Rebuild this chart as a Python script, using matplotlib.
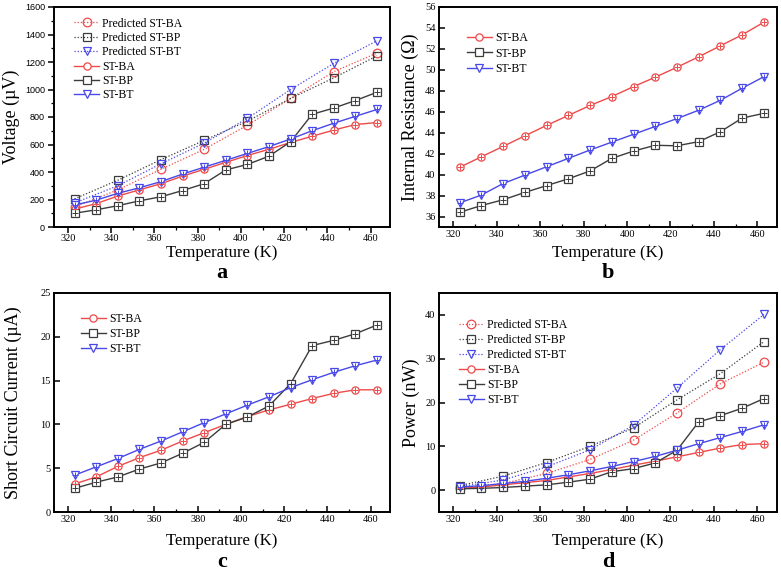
import matplotlib
matplotlib.use("Agg")
import matplotlib.pyplot as plt
from matplotlib.ticker import MultipleLocator

# ---------------- data ----------------
temp = [323, 333, 343, 353, 363, 373, 383, 393, 403, 413, 423, 433, 443, 453, 463]
temp_pred = [323, 343, 363, 383, 403, 423, 443, 463]

# (a) voltage, uV
v_ba = [130, 170, 225, 270, 315, 370, 420, 470, 520, 565, 615, 660, 705, 745, 760]
v_bp = [100, 125, 155, 190, 220, 265, 315, 415, 455, 515, 620, 820, 865, 920, 980]
v_bt = [160, 195, 245, 285, 330, 385, 435, 485, 535, 585, 640, 700, 755, 805, 855]
v_pred_ba = [145, 270, 420, 565, 740, 935, 1130, 1265]
v_pred_bp = [205, 340, 490, 630, 770, 935, 1085, 1245]
v_pred_bt = [175, 300, 460, 610, 790, 1000, 1190, 1355]

# (b) internal resistance, ohm
r_ba = [40.7, 41.7, 42.7, 43.7, 44.7, 45.65, 46.6, 47.45, 48.4, 49.3, 50.25, 51.25, 52.3, 53.35, 54.55]
r_bp = [36.4, 37.05, 37.6, 38.3, 38.95, 39.6, 40.35, 41.55, 42.25, 42.8, 42.75, 43.15, 44.1, 45.4, 45.85]
r_bt = [37.3, 38.05, 39.15, 39.95, 40.75, 41.55, 42.35, 43.1, 43.85, 44.6, 45.35, 46.15, 47.1, 48.25, 49.35]

# (c) short circuit current, uA
i_ba = [3.2, 4.0, 5.2, 6.2, 7.05, 8.1, 9.05, 10.0, 10.9, 11.65, 12.3, 12.95, 13.55, 13.95, 13.95]
i_bp = [2.7, 3.4, 4.0, 4.9, 5.6, 6.7, 7.95, 10.0, 10.85, 12.1, 14.65, 19.0, 19.6, 20.35, 21.35]
i_bt = [4.2, 5.15, 6.1, 7.15, 8.1, 9.15, 10.2, 11.2, 12.2, 13.15, 14.2, 15.1, 15.95, 16.7, 17.35]

# (d) power, nW
p_ba = [0.4, 0.7, 1.2, 1.7, 2.2, 3.0, 3.8, 4.7, 5.7, 6.6, 7.6, 8.6, 9.6, 10.4, 10.6]
p_bp = [0.3, 0.4, 0.6, 0.9, 1.2, 1.8, 2.5, 4.2, 4.9, 6.2, 9.1, 15.6, 17.0, 18.7, 20.9]
p_bt = [0.7, 1.0, 1.5, 2.0, 2.7, 3.5, 4.4, 5.4, 6.5, 7.7, 9.1, 10.6, 12.0, 13.4, 14.9]
p_pred_ba = [0.5, 1.5, 3.8, 7.0, 11.4, 17.6, 24.3, 29.2]
p_pred_bp = [1.0, 3.2, 6.3, 10.0, 14.2, 20.6, 26.6, 33.9]
p_pred_bt = [0.8, 2.3, 5.3, 9.2, 14.8, 23.3, 32.1, 40.1]

names = ["ST-BA", "ST-BP", "ST-BT"]
colors = ["#ee4a4a", "#3c3c3c", "#4848e8"]
markers = ["o", "s", "v"]

SERIF = "Liberation Serif"
SANS = "Liberation Sans"

fig = plt.figure(figsize=(7.81, 5.71), dpi=100)
W, H = 781, 571


def ax_at(l, r, t, b):
    return fig.add_axes([l / W, 1 - b / H, (r - l) / W, (b - t) / H])


axa = ax_at(54, 390, 7, 227)
axb = ax_at(439, 777, 7, 227)
axc = ax_at(54, 390, 293, 512)
axd = ax_at(439, 777, 293, 512)


def measured(ax, ys_list):
    for name, ys, c, m in zip(names, ys_list, colors, markers):
        ax.plot(temp, ys, color=c, lw=1.0, marker=m, ms=5.2, mfc="white",
                mec=c, mew=0.9, label=name, zorder=3)
        ax.plot(temp, ys, ls="none", marker="+", ms=3.8, color=c, mew=0.7, zorder=4)


def predicted(ax, ys_list):
    for name, ys, c, m in zip(names, ys_list, colors, markers):
        ax.plot(temp_pred, ys, color=c, lw=0.9, ls=(0, (1, 1.5)), marker=m, ms=6.2,
                mfc="none", mec=c, mew=0.9, label="Predicted " + name, zorder=2)


def style(ax, ylabel, ylim, yticks, letter, letter_y, ylab_x, tickdir="in",
          yfont=SERIF, yfs=7.5, yminor=None, xpad=2.5, xlabelpad=6):
    ax.set_xlim(313.5, 469)
    ax.set_ylim(*ylim)
    ax.set_xticks(range(320, 461, 20))
    ax.xaxis.set_minor_locator(MultipleLocator(10))
    if yminor:
        ax.yaxis.set_minor_locator(MultipleLocator(yminor))
    ax.set_yticks(yticks)
    for s in ax.spines.values():
        s.set_linewidth(1.4)
    ax.tick_params(which="major", direction=tickdir, length=4, width=1.1, pad=2.5)
    ax.tick_params(axis="x", which="major", pad=xpad)
    ax.tick_params(which="minor", direction=tickdir, length=2.5, width=0.9)
    for lab in ax.get_xticklabels():
        lab.set_fontfamily(SERIF)
        lab.set_fontsize(7.5)
    for lab in ax.get_yticklabels():
        lab.set_fontfamily(yfont)
        lab.set_fontsize(yfs)
    ax.set_xlabel("Temperature (K)", fontfamily=SERIF, fontsize=12, labelpad=xlabelpad)
    ax.set_ylabel(ylabel, fontfamily=SERIF, fontsize=13)
    ax.yaxis.set_label_coords(ylab_x, 0.5)
    ax.text(0.5, letter_y, letter, transform=ax.transAxes, ha="center",
            va="baseline", fontfamily=SERIF, fontweight="bold", fontsize=16)


def legend(ax, x, y, spacing=0.2):
    ax.legend(loc="upper left", bbox_to_anchor=(x, y), frameon=False,
              prop={"family": SERIF, "size": 8.5}, handlelength=2.1,
              handletextpad=0.3, labelspacing=spacing, borderpad=0,
              borderaxespad=0)


# (a)
predicted(axa, [v_pred_ba, v_pred_bp, v_pred_bt])
measured(axa, [v_ba, v_bp, v_bt])
style(axa, "Voltage (\u00b5V)", (0, 1600), range(0, 1601, 200), "a", -0.232,
      -0.101, tickdir="out", yfont=SANS, yfs=6.5, yminor=100, xpad=1,
      xlabelpad=1.5)
legend(axa, 0.06, 0.952)

# (b)
measured(axb, [r_ba, r_bp, r_bt])
style(axb, "Internal Resistance (\u03a9)", (35, 56), range(36, 57, 2), "b", -0.232,
      -0.059, xlabelpad=4)
legend(axb, 0.083, 0.886, spacing=0.3)

# (c)
measured(axc, [i_ba, i_bp, i_bt])
style(axc, "Short Circuit Current (\u00b5A)", (0, 25), range(0, 26, 5), "c", -0.25,
      -0.095)
legend(axc, 0.08, 0.91, spacing=0.28)

# (d)
predicted(axd, [p_pred_ba, p_pred_bp, p_pred_bt])
measured(axd, [p_ba, p_bp, p_bt])
style(axd, "Power (nW)", (-5, 45), range(0, 41, 10), "d", -0.25, -0.056)
legend(axd, 0.059, 0.88, spacing=0.25)

fig.savefig("out.png", dpi=100)
